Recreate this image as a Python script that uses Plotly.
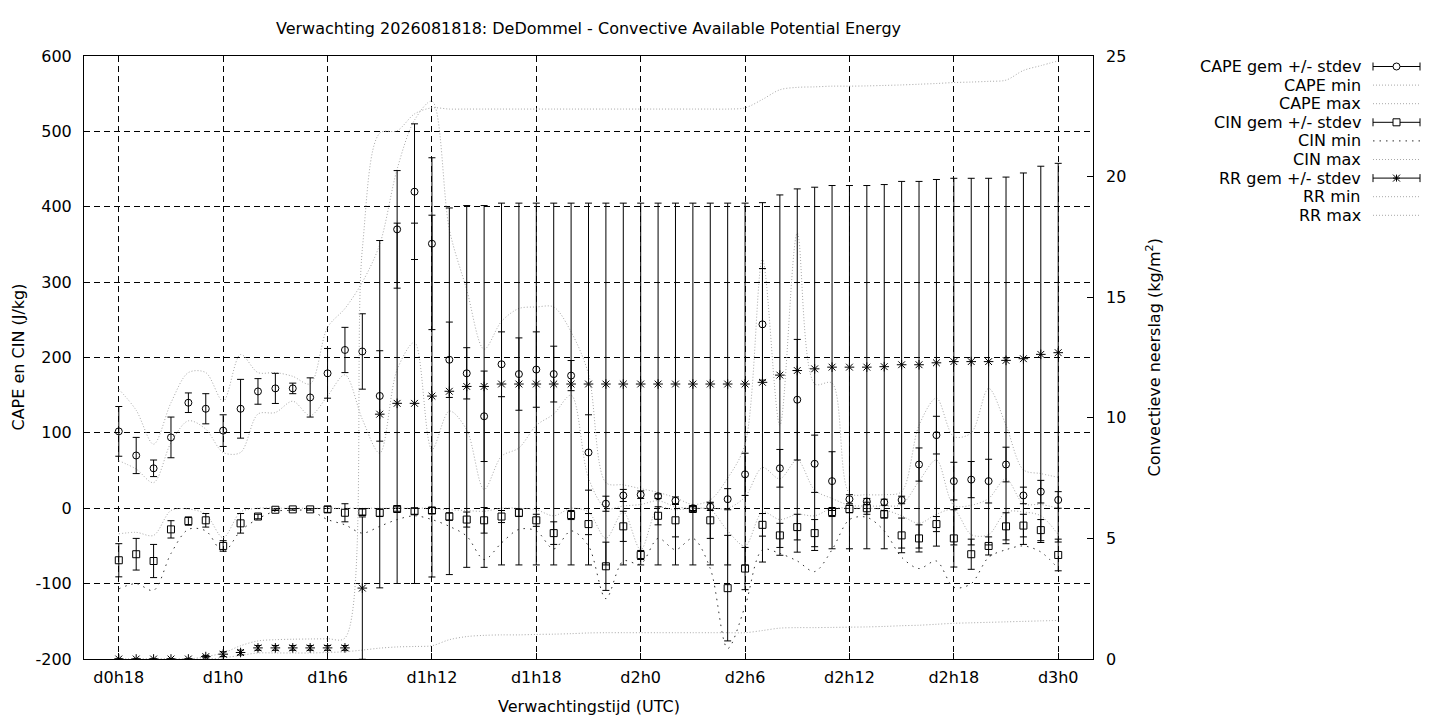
import plotly.graph_objects as go

# Tijdas: uren na d0h0, elk uur van d0h18 t/m d3h0
uren = list(range(18, 73))
tick_uren = [18, 24, 30, 36, 42, 48, 54, 60, 66, 72]
tick_labels = ["d0h18", "d1h0", "d1h6", "d1h12", "d1h18", "d2h0", "d2h6", "d2h12", "d2h18", "d3h0"]
y_ticks = [-200, -100, 0, 100, 200, 300, 400, 500, 600]
y2_ticks = [0, 5, 10, 15, 20, 25]

# CAPE (J/kg)
cape_gem = [102, 70, 53, 94, 140, 132,
            103, 132, 155, 159, 159, 147, 179, 210, 208, 149, 370, 420,
            351, 197, 179, 122, 191, 178, 184, 178, 176, 74, 6, 17,
            18, 16, 10, 0, 2, 12, 45, 244, 53, 144, 59, 36,
            12, 9, 8, 11, 58, 97, 36, 38, 36, 58, 17, 22,
            11]
cape_sd = [33, 24, 11, 27, 13, 20,
           21, 39, 17, 20, 7, 26, 33, 30, 50, 60, 78, 90,
           114, 50, 34, 60, 43, 48, 50, 37, 20, 50, 10, 8,
           5, 3, 5, 3, 5, 14, 28, 74, 25, 80, 38, 39,
           6, 4, 4, 5, 22, 25, 25, 24, 29, 23, 11, 15,
           11]
cape_min = [63, 52, 34, 87, 116, 105,
            74, 74, 125, 127, 142, 123, 149, 177, 118, 73, 184, 220,
            78, 129, 104, 25, 69, 80, 110, 125, 150, 40, 0, 3,
            5, 10, 2, 0, 0, 0, 15, 54, 39, 64, 24, 13,
            4, 3, 3, 5, 36, 64, 4, 4, 13, 39, 6, 5,
            0]
cape_max = [158, 130, 85, 140, 180, 180,
            142, 204, 180, 180, 175, 165, 240, 265, 300, 350, 450, 515,
            540, 370, 290, 211, 248, 265, 267, 267, 234, 178, 34, 31,
            26, 21, 14, 5, 11, 40, 85, 330, 110, 365, 165, 166,
            20, 18, 18, 22, 110, 146, 95, 100, 159, 110, 51, 46,
            41]

# CIN (J/kg)
cin_gem = [-69, -61, -70, -28, -17, -16,
           -50, -20, -11, -2, -1.5, -1.5, -1.5, -6, -5, -6, -1, -4,
           -3, -11, -15, -16, -11, -6, -16, -33, -9, -21, -77, -24,
           -62, -10, -16, -1, -16, -106, -80, -22, -36, -25, -33, -5,
           -1, 0, -8, -36, -40, -21, -40, -61, -50, -24, -23, -29,
           -62]
cin_sd = [22, 21, 22, 11.5, 5.5, 9,
          7, 13, 3, 1, 1, 1, 4, 12, 4, 5, 3, 4,
          4, 5, 10, 17, 8, 5, 8, 15, 6, 14, 32, 20,
          6, 12, 22, 3, 24, 70, 28, 15, 16, 17, 18, 6,
          5, 8, 5, 23, 18, 10, 38, 20, 12, 18, 15, 14,
          21]
cin_min = [-107, -100, -109, -60, -28, -30,
           -58, -30, -14, -4, -3, -3, -15, -22, -33, -24, -15, -10,
           -15, -24, -37, -68, -46, -28, -30, -54, -30, -50, -120, -70,
           -74, -40, -55, -40, -80, -186, -130, -55, -60, -70, -84, -55,
           -15, -12, -30, -65, -80, -70, -105, -100, -65, -55, -50, -58,
           -80]
cin_max = [-34, -32, -36, -3, -1, -8,
           -39, -5, 0, 0, 0, 0, 0, 0, 0, 0, 0, 0,
           0, -2, -3, -4, 0, 0, -2, -10, 0, -5, -40, -5,
           -55, 0, -2, 0, -2, -30, -50, -5, -15, -8, -10, 0,
           0, 0, -2, -10, -20, -8, -2, -35, -35, -5, -5, -10,
           -35]

# Convectieve neerslag RR (kg/m2)
rr_gem = [0, 0, 0, 0, 0, 0.1,
          0.2, 0.27, 0.46, 0.46, 0.46, 0.46, 0.46, 0.46, 2.94, 10.15, 10.6, 10.6,
          10.9, 11.1, 11.3, 11.3, 11.4, 11.4, 11.4, 11.4, 11.4, 11.4, 11.4, 11.4,
          11.4, 11.4, 11.4, 11.4, 11.4, 11.4, 11.4, 11.47, 11.77, 11.96, 12.03, 12.1,
          12.1, 12.1, 12.12, 12.2, 12.2, 12.28, 12.33, 12.33, 12.33, 12.38, 12.45, 12.63,
          12.7]
rr_sd = [0, 0, 0, 0, 0, 0.05,
         0.1, 0.1, 0.1, 0.1, 0.1, 0.1, 0.1, 0.1, 2.95, 7.2, 7.47, 7.47,
         7.5, 7.6, 7.5, 7.5, 7.5, 7.5, 7.5, 7.5, 7.5, 7.5, 7.5, 7.5,
         7.5, 7.5, 7.5, 7.5, 7.5, 7.5, 7.5, 7.45, 7.47, 7.53, 7.53, 7.53,
         7.53, 7.53, 7.55, 7.6, 7.6, 7.6, 7.6, 7.6, 7.6, 7.6, 7.7, 7.8,
         7.85]
rr_min = [0, 0, 0, 0, 0, 0,
          0.05, 0.15, 0.25, 0.25, 0.25, 0.25, 0.27, 0.3, 0.37, 0.45, 0.5, 0.52,
          0.55, 0.8, 0.93, 0.98, 1.0, 1.0, 1.02, 1.03, 1.05, 1.08, 1.09, 1.09,
          1.09, 1.09, 1.09, 1.09, 1.09, 1.09, 1.09, 1.18, 1.28, 1.3, 1.3, 1.31,
          1.32, 1.33, 1.35, 1.38, 1.4, 1.44, 1.48, 1.5, 1.52, 1.54, 1.56, 1.58,
          1.6]
rr_max = [0, 0, 0, 0, 0, 0.1,
          0.25, 0.55, 0.75, 0.8, 0.82, 0.83, 0.84, 0.87, 17, 21.8, 21.9, 22.6,
          22.85, 22.8, 22.8, 22.8, 22.8, 22.8, 22.8, 22.8, 22.8, 22.8, 22.8, 22.8,
          22.8, 22.8, 22.8, 22.8, 22.8, 22.8, 22.85, 23.2, 23.6, 23.7, 23.72, 23.75,
          23.75, 23.76, 23.78, 23.8, 23.83, 23.86, 23.9, 23.92, 23.95, 24.0, 24.4, 24.6,
          24.8]

FONT = "DejaVu Sans"
FS = 16
GRIJS = "#a8a8a8"
DONKER = "#303030"
DOT_GRIJS = "1px,2px"
DOT_DONKER = "1.5px,5px"

# plotgebied in pixels (gnuplot-achtige opmaak)
L, R, T, B = 84, 1093, 56, 659


def px_x(p):
    return (p - L) / (R - L)


def px_y(p):
    return (B - p) / (B - T)


fig = go.Figure()


def dotted(y, color, dash, yaxis="y"):
    fig.add_trace(go.Scatter(x=uren, y=y, mode="lines", yaxis=yaxis,
                             line=dict(color=color, width=1, dash=dash, shape="spline", smoothing=0.9),
                             showlegend=False, hoverinfo="skip"))


def errbars(y, sd, symbol, size, yaxis="y"):
    fig.add_trace(go.Scatter(x=uren, y=y, mode="markers", yaxis=yaxis,
                             marker=dict(symbol=symbol, size=size, color="black",
                                         line=dict(color="black", width=1)),
                             error_y=dict(type="data", array=sd, visible=True, color="black",
                                          thickness=1, width=3.5),
                             showlegend=False))


dotted(cape_min, GRIJS, DOT_GRIJS)
dotted(cape_max, GRIJS, DOT_GRIJS)
dotted(cin_min, DONKER, DOT_DONKER)
dotted(cin_max, GRIJS, DOT_GRIJS)
dotted(rr_min, GRIJS, DOT_GRIJS, "y2")
dotted(rr_max, GRIJS, DOT_GRIJS, "y2")

errbars(cape_gem, cape_sd, "circle-open", 7)
errbars(cin_gem, cin_sd, "square-open", 7)
errbars(rr_gem, rr_sd, "asterisk-open", 8, "y2")

# Legenda in gnuplot-stijl: tekst rechts uitgelijnd, voorbeeld rechts ervan
legenda = [("CAPE gem +/- stdev", "circle"), ("CAPE min", GRIJS), ("CAPE max", GRIJS),
           ("CIN gem +/- stdev", "square"), ("CIN min", DONKER), ("CIN max", GRIJS),
           ("RR gem +/- stdev", "asterisk"), ("RR min", GRIJS), ("RR max", GRIJS)]
shapes = []
annotations = []
lx0, lx1, ltxt = 1373, 1420, 1363
for i, (tekst, stijl) in enumerate(legenda):
    yy = 66.5 + i * 18.6
    annotations.append(dict(text=tekst, x=px_x(ltxt), y=px_y(yy), xref="paper", yref="paper",
                            xanchor="right", yanchor="middle", showarrow=False,
                            font=dict(family=FONT, size=FS, color="black")))
    if stijl in ("circle", "square", "asterisk"):
        shapes.append(dict(type="line", xref="paper", yref="paper", x0=px_x(lx0), x1=px_x(lx1),
                           y0=px_y(yy), y1=px_y(yy), line=dict(color="black", width=1)))
        for xc in (lx0, lx1):
            shapes.append(dict(type="line", xref="paper", yref="paper", x0=px_x(xc), x1=px_x(xc),
                               y0=px_y(yy - 4), y1=px_y(yy + 4), line=dict(color="black", width=1)))
        xm, r = (lx0 + lx1) / 2, 3.5
        if stijl == "circle":
            shapes.append(dict(type="circle", xref="paper", yref="paper", x0=px_x(xm - r), x1=px_x(xm + r),
                               y0=px_y(yy + r), y1=px_y(yy - r), fillcolor="white",
                               line=dict(color="black", width=1)))
        elif stijl == "square":
            shapes.append(dict(type="rect", xref="paper", yref="paper", x0=px_x(xm - r), x1=px_x(xm + r),
                               y0=px_y(yy + r), y1=px_y(yy - r), fillcolor="white",
                               line=dict(color="black", width=1)))
        else:
            for dx, dy in ((r, 0), (0, r), (r, r), (r, -r)):
                shapes.append(dict(type="line", xref="paper", yref="paper",
                                   x0=px_x(xm - dx), x1=px_x(xm + dx),
                                   y0=px_y(yy - dy), y1=px_y(yy + dy), line=dict(color="black", width=1)))
    else:
        shapes.append(dict(type="line", xref="paper", yref="paper", x0=px_x(lx0), x1=px_x(lx1),
                           y0=px_y(yy), y1=px_y(yy),
                           line=dict(color=stijl, width=1, dash=DOT_DONKER if stijl == DONKER else DOT_GRIJS)))

# Astitels
annotations.append(dict(text="CAPE en CIN (J/kg)", x=px_x(18), y=0.5, xref="paper", yref="paper",
                        textangle=-90, showarrow=False, xanchor="center", yanchor="middle",
                        font=dict(family=FONT, size=FS, color="black")))
annotations.append(dict(text="Convectieve neerslag (kg/m<sup>2</sup>)", x=px_x(1154), y=0.5,
                        xref="paper", yref="paper", textangle=-90, showarrow=False,
                        xanchor="center", yanchor="middle",
                        font=dict(family=FONT, size=FS, color="black")))
annotations.append(dict(text="Verwachtingstijd (UTC)", x=0.5, y=px_y(706), xref="paper", yref="paper",
                        showarrow=False, xanchor="center", yanchor="middle",
                        font=dict(family=FONT, size=FS, color="black")))

fig.update_layout(
    width=1440, height=720,
    margin=dict(l=L, r=1440 - R, t=T, b=720 - B),
    paper_bgcolor="white", plot_bgcolor="white",
    font=dict(family=FONT, size=FS, color="black"),
    title=dict(text="Verwachting 2026081818: DeDommel - Convective Available Potential Energy",
               x=0.5, xref="paper", xanchor="center", y=1 - 28 / 720, yanchor="middle",
               font=dict(family=FONT, size=FS, color="black")),
    showlegend=False,
    shapes=shapes,
    annotations=annotations,
    xaxis=dict(range=[16, 74], tickvals=tick_uren, ticktext=tick_labels,
               showgrid=True, gridcolor="black", gridwidth=1, griddash="6px,4px",
               zeroline=False, showline=True, linecolor="black", linewidth=1, mirror="ticks",
               ticks="inside", ticklen=6, tickcolor="black", ticklabelstandoff=4),
    yaxis=dict(range=[-200, 600], tickvals=y_ticks, ticktext=[str(v) for v in y_ticks],
               showgrid=True, gridcolor="black", gridwidth=1, griddash="6px,4px",
               zeroline=False, showline=True, linecolor="black", linewidth=1, mirror=True,
               ticks="inside", ticklen=6, tickcolor="black", ticklabelstandoff=8),
    yaxis2=dict(range=[0, 25], tickvals=y2_ticks, overlaying="y", side="right",
                showgrid=False, zeroline=False, showline=False,
                ticks="inside", ticklen=6, tickcolor="black", ticklabelstandoff=12),
)

# body-marge van de browser weghalen zodat de figuur op (0,0) staat
fig.write_html("out.html", config={"displayModeBar": False},
               post_script="document.body.style.margin='0';")
